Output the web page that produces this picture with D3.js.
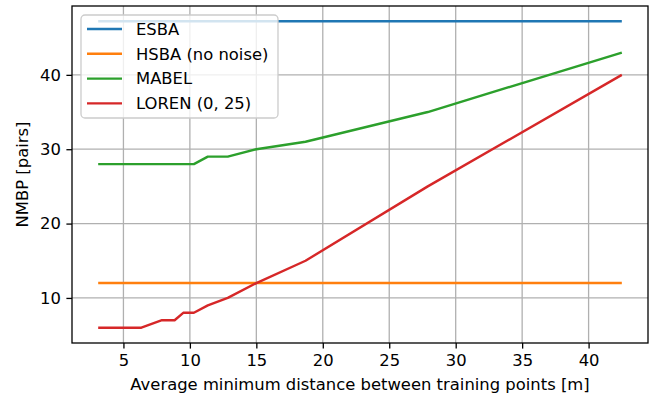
<!DOCTYPE html>
<html>
<head>
<meta charset="utf-8">
<script src="https://cdn.jsdelivr.net/npm/d3@7"></script>
<style>
  body { margin: 0; background: #fff; }
  svg { font-family: "DejaVu Sans", sans-serif; }
</style>
</head>
<body>
<svg id="chart" width="660" height="399"></svg>
<script>
"use strict";

// distances between training points [m]
const distances = [3.1, 6.35, 7.9, 8.85, 9.5, 10.3, 11.35, 12.85, 15.0, 18.7, 27.9, 42.5];
const esba = [47.2, 47.2, 47.2, 47.2, 47.2, 47.2, 47.2, 47.2, 47.2, 47.2, 47.2, 47.2];
const hsba = [12, 12, 12, 12, 12, 12, 12, 12, 12, 12, 12, 12];
const mabel = [28, 28, 28, 28, 28, 28, 29, 29, 30, 31, 35, 43];
const loren = [6, 6, 7, 7, 8, 8, 9, 10, 12, 15, 25, 40];

const seriesNames = ["ESBA", "HSBA (no noise)", "MABEL", "LOREN (0, 25)"];
const seriesColors = ["#1f77b4", "#ff7f0e", "#2ca02c", "#d62728"];
const xTicks = [5, 10, 15, 20, 25, 30, 35, 40];
const yTicks = [10, 20, 30, 40];

const series = [esba, hsba, mabel, loren].map((vals, i) => ({
  name: seriesNames[i],
  color: seriesColors[i],
  points: vals.map((v, j) => [distances[j], v])
}));

const plotL = 72, plotR = 648, plotT = 6, plotB = 343;
const fontSize = "16.4px";

const svg = d3.select("#chart");

// matplotlib style 5% margins
const xMin = d3.min(distances), xMax = d3.max(distances);
const allY = [].concat(esba, hsba, mabel, loren);
const yMin = d3.min(allY), yMax = d3.max(allY);
const xPad = (xMax - xMin) * 0.05, yPad = (yMax - yMin) * 0.05;

const x = d3.scaleLinear().domain([xMin - xPad, xMax + xPad]).range([plotL, plotR]);
const y = d3.scaleLinear().domain([yMin - yPad, yMax + yPad]).range([plotB, plotT]);

// grid
const grid = svg.append("g");
grid.selectAll("line.vx")
  .data(xTicks)
  .enter()
  .append("line")
  .attr("x1", d => x(d)).attr("x2", d => x(d))
  .attr("y1", plotT).attr("y2", plotB)
  .style("stroke", "#b0b0b0")
  .style("stroke-width", 1.3);
grid.selectAll("line.hy")
  .data(yTicks)
  .enter()
  .append("line")
  .attr("x1", plotL).attr("x2", plotR)
  .attr("y1", d => y(d)).attr("y2", d => y(d))
  .style("stroke", "#b0b0b0")
  .style("stroke-width", 1.3);

// lines
const line = d3.line().x(d => x(d[0])).y(d => y(d[1]));
svg.append("g").selectAll("path")
  .data(series)
  .enter()
  .append("path")
  .attr("d", d => line(d.points))
  .style("fill", "none")
  .style("stroke", d => d.color)
  .style("stroke-width", 2.4)
  .style("stroke-linejoin", "round")
  .style("stroke-linecap", "butt");

// axes
const xAxis = svg.append("g")
  .attr("transform", `translate(0,${plotB})`)
  .call(d3.axisBottom(x).tickValues(xTicks).tickSize(5.6).tickPadding(5.5).tickFormat(d3.format("d")));
const yAxis = svg.append("g")
  .attr("transform", `translate(${plotL},0)`)
  .call(d3.axisLeft(y).tickValues(yTicks).tickSize(5.6).tickPadding(5.5).tickFormat(d3.format("d")));

[xAxis, yAxis].forEach(a => {
  a.select(".domain").remove();
  a.selectAll(".tick line").style("stroke", "#000").style("stroke-width", 1.3);
  a.selectAll(".tick text")
    .style("font-family", "DejaVu Sans")
    .style("font-size", fontSize)
    .style("fill", "#000");
});

// frame
svg.append("rect")
  .attr("x", plotL).attr("y", plotT)
  .attr("width", plotR - plotL).attr("height", plotB - plotT)
  .style("fill", "none")
  .style("stroke", "#000")
  .style("stroke-width", 1.3);

// axis labels
svg.append("text")
  .attr("x", (plotL + plotR) / 2)
  .attr("y", 390)
  .attr("text-anchor", "middle")
  .style("font-size", fontSize)
  .text("Average minimum distance between training points [m]");

svg.append("text")
  .attr("transform", `translate(28,${(plotT + plotB) / 2}) rotate(-90)`)
  .attr("text-anchor", "middle")
  .style("font-size", fontSize)
  .text("NMBP [pairs]");

// legend
const legend = svg.append("g").attr("transform", "translate(81,15)");
legend.append("rect")
  .attr("x", 0).attr("y", 0)
  .attr("width", 197).attr("height", 103)
  .attr("rx", 4).attr("ry", 4)
  .style("fill", "#fff")
  .style("fill-opacity", 0.8)
  .style("stroke", "#cccccc")
  .style("stroke-width", 1.3);

const item = legend.selectAll("g.item")
  .data(series)
  .enter()
  .append("g")
  .attr("class", "item")
  .attr("transform", (d, i) => `translate(0,${14 + i * 24.8})`);

item.append("line")
  .attr("x1", 6).attr("x2", 41)
  .attr("y1", 0).attr("y2", 0)
  .style("stroke", d => d.color)
  .style("stroke-width", 2.4);

item.append("text")
  .attr("x", 55)
  .attr("y", 0)
  .attr("dy", "0.35em")
  .style("font-size", fontSize)
  .text(d => d.name);
</script>
</body>
</html>
